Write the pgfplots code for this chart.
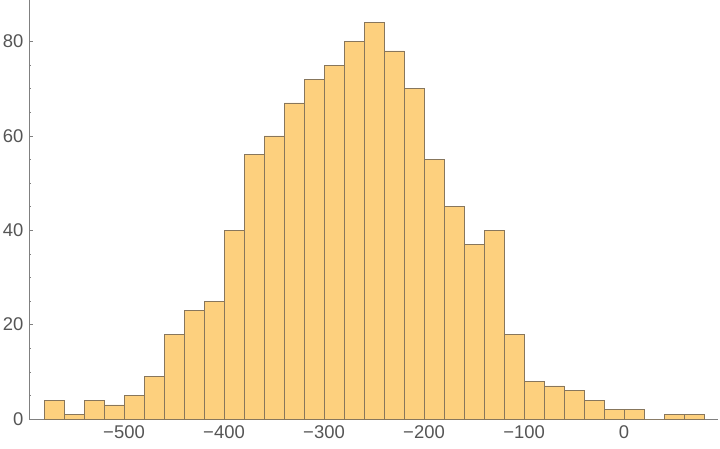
\documentclass[border=0pt]{standalone}
\usepackage{fontspec}
\setmainfont{Liberation Sans}
\usepackage{pgfplots}
\pgfplotsset{compat=1.18}
\definecolor{barfill}{RGB}{253,208,126}
\definecolor{baredge}{RGB}{135,118,92}
\definecolor{axgray}{RGB}{128,128,128}
\definecolor{labgray}{RGB}{85,85,85}

\begin{document}
\begin{tikzpicture}
\path[use as bounding box] (-29bp,-30bp) rectangle (691bp,419bp);
\begin{axis}[
    at={(0,0)}, anchor=south west,
    scale only axis,
    width=689bp, height=419bp,
    xmin=-595, xmax=94,
    ymin=0, ymax=88.8,
    axis x line=bottom, axis y line=left,
    axis line style={axgray, line width=0.8bp, -},
    xtick={-500,-400,-300,-200,-100,0},
    xticklabels={−500,−400,−300,−200,−100,0},
    x tick style={draw=none},
    ytick={0,20,40,60,80},
    yticklabels={0,20,40,60,80},
    minor y tick num=3,
    y tick style={axgray, line width=0.6bp},
    major tick length=4bp, minor tick length=2bp,
    tick align=inside,
    ticklabel style={font=\fontsize{18.5}{22}\selectfont, text=labgray},
    xticklabel style={yshift=-3bp},
    yticklabel style={xshift=-2bp},
    clip=false,
]
\addplot[ybar interval, fill=barfill, draw=baredge, line width=0.6bp] coordinates {
    (-580,4) (-560,1) (-540,4) (-520,3) (-500,5) (-480,9) (-460,18)
    (-440,23) (-420,25) (-400,40) (-380,56) (-360,60) (-340,67)
    (-320,72) (-300,75) (-280,80) (-260,84) (-240,78) (-220,70)
    (-200,55) (-180,45) (-160,37) (-140,40) (-120,18) (-100,8)
    (-80,7) (-60,6) (-40,4) (-20,2) (0,2) (20,0) (40,1) (60,1) (80,1)
};
\end{axis}
\end{tikzpicture}
\end{document}
